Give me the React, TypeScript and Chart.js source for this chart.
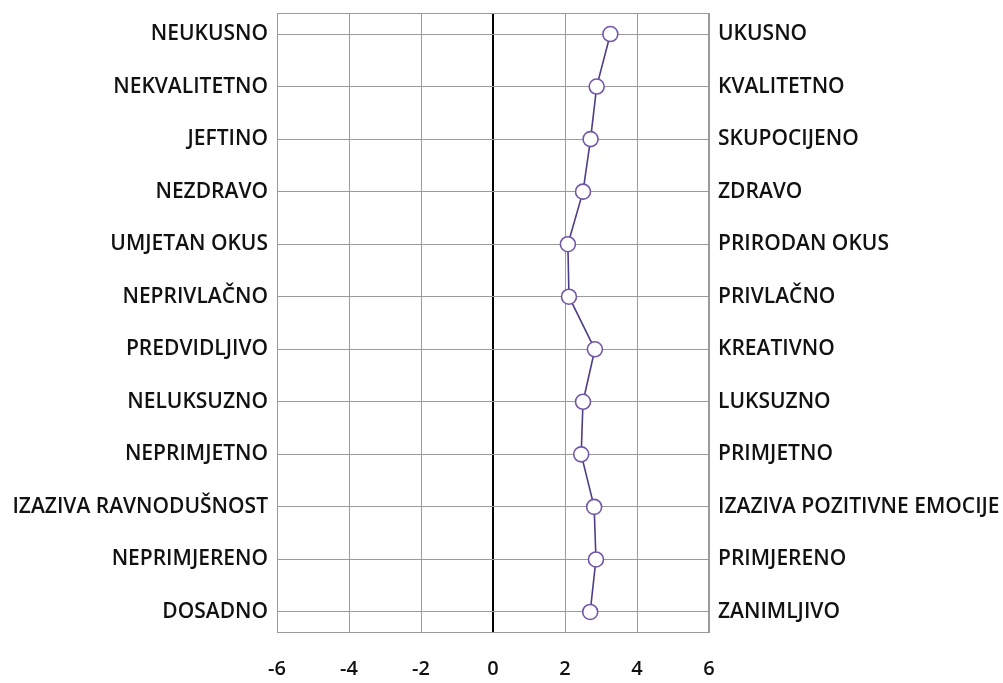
import React, { useEffect, useRef } from "react";
import { Chart, registerables } from "chart.js";

Chart.register(...registerables);

const leftLabels = [
  "NEUKUSNO",
  "NEKVALITETNO",
  "JEFTINO",
  "NEZDRAVO",
  "UMJETAN OKUS",
  "NEPRIVLAČNO",
  "PREDVIDLJIVO",
  "NELUKSUZNO",
  "NEPRIMJETNO",
  "IZAZIVA RAVNODUŠNOST",
  "NEPRIMJERENO",
  "DOSADNO",
];

const rightLabels = [
  "UKUSNO",
  "KVALITETNO",
  "SKUPOCIJENO",
  "ZDRAVO",
  "PRIRODAN OKUS",
  "PRIVLAČNO",
  "KREATIVNO",
  "LUKSUZNO",
  "PRIMJETNO",
  "IZAZIVA POZITIVNE EMOCIJE",
  "PRIMJERENO",
  "ZANIMLJIVO",
];

const values = [3.26, 2.88, 2.71, 2.5, 2.08, 2.11, 2.83, 2.5, 2.45, 2.81, 2.86, 2.7];

const xTicks = [-6, -4, -2, 0, 2, 4, 6];

const FONT = "'Open Sans', 'Liberation Sans', Arial, sans-serif";

const borderPlugin = {
  id: "plotBorder",
  afterDraw(chart: any) {
    const { ctx, chartArea } = chart;
    ctx.save();
    ctx.strokeStyle = "#9a9a9a";
    ctx.lineWidth = 1;
    ctx.strokeRect(chartArea.left + 0.5, chartArea.top + 0.5, chartArea.right - chartArea.left - 1, chartArea.bottom - chartArea.top - 1);
    ctx.restore();
  },
};

export default function App() {
  const ref = useRef<HTMLCanvasElement | null>(null);

  useEffect(() => {
    document.body.style.margin = "0";
    if (!ref.current) return;
    const rowTicks = leftLabels.map((_, i) => i + 1);
    const chart = new Chart(ref.current, {
      type: "line",
      data: {
        datasets: [
          {
            data: values.map((v, i) => ({ x: v, y: i + 1 })),
            borderColor: "#4f3d85",
            borderWidth: 1.6,
            pointRadius: 7.5,
            pointHoverRadius: 7.5,
            pointBackgroundColor: "#ffffff",
            pointBorderColor: "#7257a8",
            pointBorderWidth: 1.6,
            tension: 0,
          },
        ],
      },
      options: {
        animation: false,
        responsive: false,
        maintainAspectRatio: false,
        layout: { padding: { top: 13, left: 0, right: 0, bottom: 0 } },
        plugins: { legend: { display: false }, tooltip: { enabled: false } },
        scales: {
          x: {
            type: "linear",
            min: -6,
            max: 6,
            afterBuildTicks: (s: any) => {
              s.ticks = xTicks.map((v) => ({ value: v }));
            },
            afterFit: (s: any) => {
              s.height = 50;
              s.paddingLeft = 0;
              s.paddingRight = 0;
            },
            grid: {
              drawTicks: false,
              color: (c: any) => (c.tick && c.tick.value === 0 ? "#000000" : "#9a9a9a"),
              lineWidth: (c: any) => (c.tick && c.tick.value === 0 ? 2 : 1),
            },
            border: { display: false },
            ticks: {
              padding: 24,
              color: "#111111",
              font: { family: FONT, size: 20, weight: "600" },
            },
          },
          y: {
            type: "linear",
            position: "left",
            reverse: true,
            min: 0.6,
            max: 12.4,
            afterBuildTicks: (s: any) => {
              s.ticks = rowTicks.map((v) => ({ value: v }));
            },
            afterFit: (s: any) => {
              s.width = 277;
              s.paddingTop = 0;
              s.paddingBottom = 0;
            },
            grid: { drawTicks: false, color: "#9a9a9a", lineWidth: 1 },
            border: { display: false },
            ticks: {
              padding: 9,
              color: "#111111",
              font: { family: FONT, size: 21, weight: "600" },
              callback: (v: any) => leftLabels[Number(v) - 1],
            },
          },
          y2: {
            type: "linear",
            position: "right",
            reverse: true,
            min: 0.6,
            max: 12.4,
            afterBuildTicks: (s: any) => {
              s.ticks = rowTicks.map((v) => ({ value: v }));
            },
            afterFit: (s: any) => {
              s.width = 1003 - 709;
              s.paddingTop = 0;
              s.paddingBottom = 0;
            },
            grid: { drawOnChartArea: false, drawTicks: false },
            border: { display: false },
            ticks: {
              padding: 9,
              color: "#111111",
              font: { family: FONT, size: 21, weight: "600" },
              callback: (v: any) => rightLabels[Number(v) - 1],
            },
          },
        },
      },
      plugins: [borderPlugin],
    } as any);
    return () => chart.destroy();
  }, []);

  return (
    <div style={{ width: 1003, height: 683, background: "#ffffff" }}>
      <canvas ref={ref} width={1003} height={683} style={{ display: "block" }} />
    </div>
  );
}
